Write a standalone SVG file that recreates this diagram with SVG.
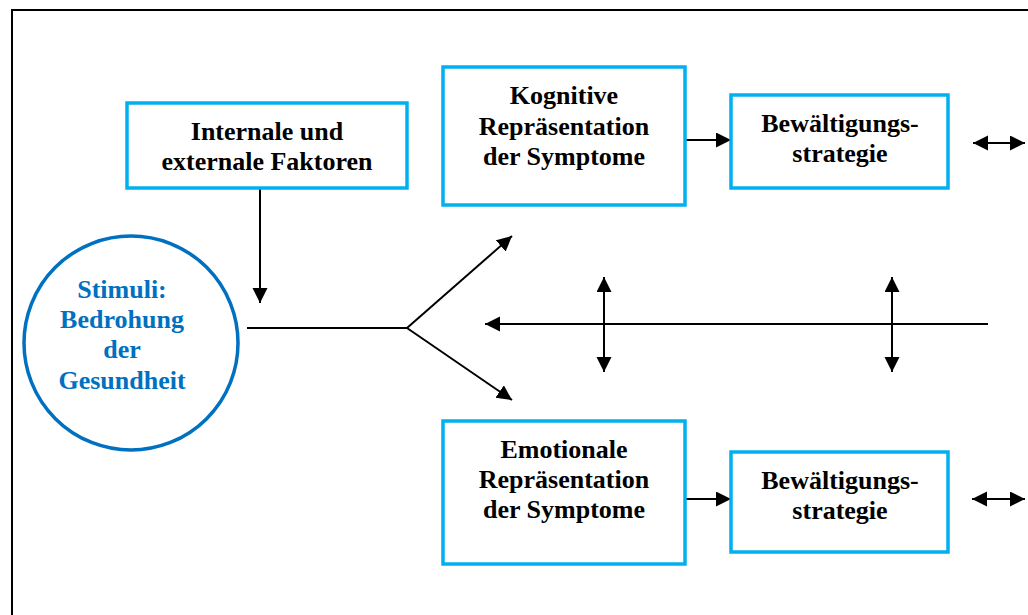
<svg xmlns="http://www.w3.org/2000/svg" width="1028" height="615" viewBox="0 0 1028 615">
<style>
.box{fill:#fff;stroke:#00b0f0;stroke-width:3.5}
.circ{fill:#fff;stroke:#0070c0;stroke-width:3.5}
.t{font-family:'Liberation Serif','DejaVu Serif',Tinos,'Times New Roman',Times,serif;font-weight:bold;font-size:26px;fill:#000;text-anchor:middle}
.tb{fill:#0070c0}
.c{stroke:#000;stroke-width:2;fill:none}
.a{marker-end:url(#ah)}
.d{marker-start:url(#ah);marker-end:url(#ah)}
</style>
<defs>
<marker id="ah" markerUnits="userSpaceOnUse" markerWidth="16" markerHeight="16" refX="15" refY="7.5" orient="auto-start-reverse">
<path d="M0,0 L15,7.5 L0,15 z" fill="#000"/>
</marker>
</defs>
<rect width="1028" height="615" fill="#fff"/>
<path d="M1030,10 H12 V617" fill="none" stroke="#000" stroke-width="2"/>

<g id="connectors">
<line class="c a" x1="260" y1="188" x2="260" y2="303"/>
<line class="c" x1="247" y1="328" x2="407" y2="328"/>
<line class="c a" x1="407" y1="328" x2="512" y2="236"/>
<line class="c a" x1="407" y1="328" x2="512" y2="400"/>
<line class="c a" x1="988" y1="324" x2="485" y2="324"/>
<line class="c d" x1="604" y1="277" x2="604" y2="372"/>
<line class="c d" x1="892" y1="277" x2="892" y2="372"/>
<line class="c a" x1="685" y1="140" x2="731" y2="140"/>
<line class="c a" x1="685" y1="499" x2="731" y2="499"/>
<line class="c d" x1="973" y1="143" x2="1025" y2="143"/>
<line class="c d" x1="972" y1="499" x2="1025" y2="499"/>
</g>

<g id="stimuli">
<circle class="circ" cx="131" cy="343" r="107"/>
<text class="t tb" x="122" y="298">Stimuli:</text>
<text class="t tb" x="122" y="328">Bedrohung</text>
<text class="t tb" x="122" y="358">der</text>
<text class="t tb" x="122" y="389">Gesundheit</text>
</g>

<g id="faktoren">
<rect class="box" x="127" y="103" width="280" height="85"/>
<text class="t" x="267" y="140">Internale und</text>
<text class="t" x="267" y="170">externale Faktoren</text>
</g>

<g id="kognitiv">
<rect class="box" x="443" y="67" width="242" height="138"/>
<text class="t" x="564" y="104">Kognitive</text>
<text class="t" x="564" y="135">Repräsentation</text>
<text class="t" x="564" y="165">der Symptome</text>
</g>

<g id="emotional">
<rect class="box" x="443" y="421" width="242" height="143"/>
<text class="t" x="564" y="458">Emotionale</text>
<text class="t" x="564" y="488">Repräsentation</text>
<text class="t" x="564" y="518">der Symptome</text>
</g>

<g id="bewaeltigung1">
<rect class="box" x="731" y="95" width="217" height="93"/>
<text class="t" x="840" y="132">Bewältigungs-</text>
<text class="t" x="840" y="162">strategie</text>
</g>

<g id="bewaeltigung2">
<rect class="box" x="731" y="452" width="217" height="100"/>
<text class="t" x="840" y="489">Bewältigungs-</text>
<text class="t" x="840" y="519">strategie</text>
</g>
</svg>
